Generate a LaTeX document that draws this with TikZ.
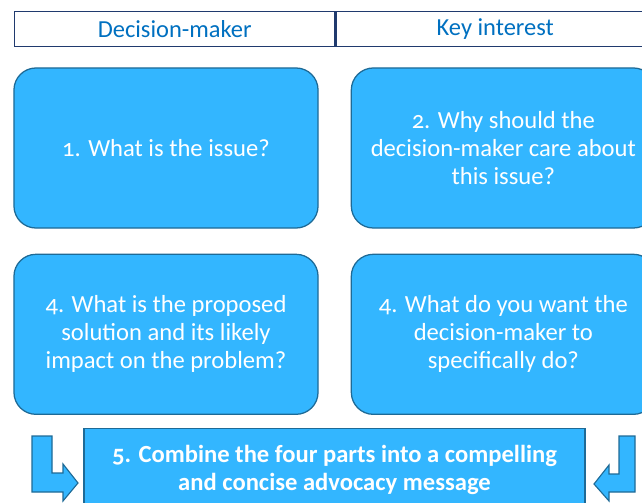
\documentclass[tikz,border=0pt]{standalone}
\usepackage{fontspec}
\setmainfont{Carlito}[Numbers=OldStyle]
\usetikzlibrary{positioning}
\definecolor{boxblue}{HTML}{33B6FF}
\definecolor{boxedge}{HTML}{1E6A96}
\definecolor{headline}{HTML}{203A6E}
\definecolor{headtext}{HTML}{0070C0}

\tikzset{
    question/.style={draw=boxedge,fill=boxblue,line width=0.9pt,rounded corners=0.55cm,
        minimum width=7.6cm,minimum height=4cm,align=center,text=white,
        font=\fontsize{17.5}{20}\selectfont},
    headcell/.style={draw=headline,line width=1pt,minimum height=0.875cm,
        text=headtext,font=\fontsize{17.4}{18}\selectfont,inner sep=0pt},
    bendarrow/.style={draw=boxedge,fill=boxblue,line width=0.8pt,line join=miter}
}

\begin{document}
\begin{tikzpicture}[x=0.025cm,y=-0.025cm,node distance=0.8cm]
    \useasboundingbox (0,0) rectangle (642,503);

    % header row
    \node[headcell,minimum width=8cm,anchor=north west] (maker) at (14,11) {Decision-maker};
    \node[headcell,minimum width=7.95cm,right=0pt of maker] (interest) {Key interest};

    % the four questions
    \node[question] (issue) at (166,148) {1. What is the issue?};
    \node[question,right=of issue] (care) {2. Why should the\\decision-maker care about\\this issue?};
    \node[question,below=0.625cm of issue] (solution) {4. What is the proposed\\solution and its likely\\impact on the problem?};
    \node[question,below=0.625cm of care] (action) {4. What do you want the\\decision-maker to\\specifically do?};

    % final step
    \node[draw=boxedge,fill=boxblue,line width=0.9pt,minimum width=12.525cm,
        anchor=north,inner ysep=0.42cm,align=center,text=white,
        font=\bfseries\fontsize{17.5}{20}\selectfont] (combine) at (334.5,428)
        {5. Combine the four parts into a compelling\\and concise advocacy message};

    % bent arrows pointing into the final box
    \path[bendarrow] (32,436) -- (52,436) -- (52,473) -- (63,473) -- (63,464)
        -- (78,483) -- (63,501) -- (63,492) -- (32,492) -- cycle;
    \path[bendarrow] (635,436) -- (619,436) -- (619,474) -- (609,474) -- (609,465)
        -- (594,484) -- (609,501) -- (609,492) -- (635,492) -- cycle;
\end{tikzpicture}
\end{document}
